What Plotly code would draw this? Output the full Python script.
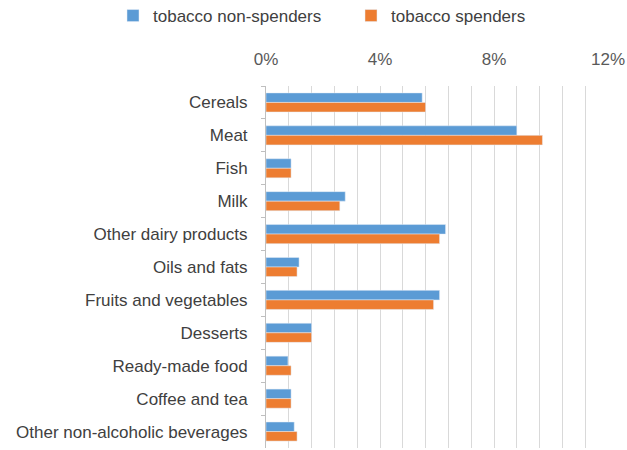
import plotly.graph_objects as go

categories = ["Cereals", "Meat", "Fish", "Milk", "Other dairy products", "Oils and fats",
              "Fruits and vegetables", "Desserts", "Ready-made food", "Coffee and tea",
              "Other non-alcoholic beverages"]
non_spenders = [0.0548, 0.0880, 0.0088, 0.0278, 0.0630, 0.0116, 0.0609, 0.0160, 0.0077, 0.0088, 0.0099]
spenders = [0.0560, 0.0970, 0.0088, 0.0259, 0.0609, 0.0109, 0.0588, 0.0160, 0.0088, 0.0088, 0.0109]
tick_vals = [0, 0.04, 0.08, 0.12]

fig = go.Figure()
fig.add_trace(go.Bar(y=categories, x=non_spenders, orientation="h", name="tobacco non-spenders",
                     marker=dict(color="#5B9BD5")))
fig.add_trace(go.Bar(y=categories, x=spenders, orientation="h", name="tobacco spenders",
                     marker=dict(color="#ED7D31")))

font_family = "Liberation Sans, Arial"
fig.update_layout(
    width=627, height=450,
    margin=dict(l=266, r=19, t=86, b=2, autoexpand=False),
    paper_bgcolor="white", plot_bgcolor="white",
    barmode="group", bargap=0.42, bargroupgap=0,
    font=dict(family=font_family, size=17, color="#404040"),
    legend=dict(orientation="h", x=(113 - 266) / 342, xanchor="left",
                y=(448 - 16) / 362, yanchor="middle",
                font=dict(size=17, color="#404040"), traceorder="normal",
                itemwidth=30, entrywidth=193, entrywidthmode="pixels"),
    showlegend=True,
)
fig.update_xaxes(
    side="top", range=[0, 0.12], tickvals=tick_vals, tickformat=".0%",
    showgrid=True, gridcolor="#D9D9D9", gridwidth=1,
    minor=dict(dtick=0.008, tick0=0, showgrid=True, gridcolor="#D9D9D9", gridwidth=1),
    zeroline=False, showline=False, ticks="", ticklabelstandoff=17, automargin=False,
    tickfont=dict(size=17, color="#595959"),
)
fig.update_yaxes(
    autorange="reversed", showline=True, linecolor="#BFBFBF", linewidth=1,
    ticks="outside", tickson="boundaries", ticklen=4, tickcolor="#BFBFBF",
    ticklabelstandoff=14, tickfont=dict(size=17, color="#404040"), showgrid=False,
    automargin=False,
)

fig.write_html("out.html", config={"displayModeBar": False},
               post_script="document.body.style.margin='0';")
